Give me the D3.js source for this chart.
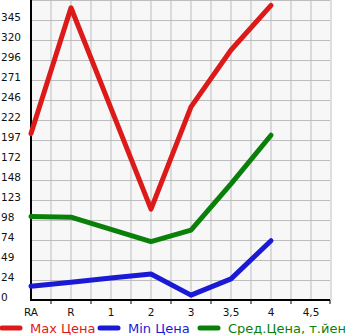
<!DOCTYPE html>
<html><head><meta charset="utf-8">
<script src="https://cdn.jsdelivr.net/npm/d3@7"></script>
<style>body{margin:0;background:#fff}svg{display:block}</style>
</head><body>
<script>
const categories = ["RA","R","1","2","3","3,5","4","4,5"];
const maxPrice = [205, 360, 236, 112, 238, 308, 363, null];
const minPrice = [17, 22, 27, 32, 6, 26, 73, null];
const avgPrice = [103, 102, 87, 72, 86, 143, 203, null];
const yTickLabels = ["0","24","49","74","98","123","148","172","197","222","246","271","296","320","345"];
const yMax = 369.6;
const seriesNames = ["Max Цена","Min Цена","Сред.Цена, т.йен"];
const seriesColors = ["#dd1a1a","#1a1ad6","#0a800a"];

const W=345,H=335;
const svg=d3.select("body").append("svg").attr("width",W).attr("height",H);
const L=31,R=330,T=0,B=300;
const x=d3.scalePoint().domain(categories).range([L,L+280]);
const y=d3.scaleLinear().domain([0,yMax]).range([B,T]);
const step=yMax/15;

svg.append("rect").attr("x",L).attr("y",T).attr("width",R-L).attr("height",B-T).attr("fill","#f7f7f7");
const g=svg.append("g");
// vertical grid every half category
for(let i=1;i<=15;i++){
  const xx=L+i*(x.step()/2);
  g.append("line").attr("x1",xx).attr("x2",xx).attr("y1",T).attr("y2",B).attr("stroke","#bdbdbd").attr("stroke-width",1);
}
// horizontal grid
for(let i=1;i<=15;i++){
  const yy=Math.round(y(i*step))+0.5;
  g.append("line").attr("x1",L).attr("x2",R).attr("y1",yy).attr("y2",yy).attr("stroke","#bdbdbd").attr("stroke-width",1);
}
// y labels
yTickLabels.forEach((t,i)=>{
  svg.append("text").attr("x",1).attr("y",y(i*step)+1).text(t)
    .attr("font-family","DejaVu Sans, sans-serif").attr("font-size",10.5).attr("fill","#111");
});
// x axis ticks between categories
for(let i=0;i<7;i++){
  const xx=L+x.step()*(i+0.5);
  svg.append("line").attr("x1",xx).attr("x2",xx).attr("y1",B).attr("y2",B+4).attr("stroke","#000");
}
svg.append("line").attr("x1",R).attr("x2",R).attr("y1",B).attr("y2",B+4).attr("stroke","#000");
categories.forEach(c=>{
  svg.append("text").attr("x",x(c)).attr("y",B+16).attr("text-anchor","middle").text(c)
    .attr("font-family","DejaVu Sans, sans-serif").attr("font-size",10.5).attr("fill","#111");
});
// axes lines
svg.append("line").attr("x1",L).attr("x2",L).attr("y1",T).attr("y2",B+1).attr("stroke","#000").attr("stroke-width",2);
svg.append("line").attr("x1",L-1).attr("x2",R).attr("y1",B).attr("y2",B).attr("stroke","#000").attr("stroke-width",2);

const line=d3.line().defined(d=>d.v!=null).x(d=>x(d.c)).y(d=>y(d.v));
[maxPrice,minPrice,avgPrice].forEach((arr,k)=>{
  svg.append("path").datum(categories.map((c,i)=>({c,v:arr[i]})))
    .attr("d",line).attr("fill","none").attr("stroke",seriesColors[k])
    .attr("stroke-width",5).attr("stroke-linecap","round").attr("stroke-linejoin","round");
});
// legend
const lx=[0,98,198];
seriesNames.forEach((n,k)=>{
  svg.append("line").attr("x1",lx[k]+2).attr("x2",lx[k]+20).attr("y1",328).attr("y2",328)
    .attr("stroke",seriesColors[k]).attr("stroke-width",5).attr("stroke-linecap","round");
  svg.append("text").attr("x",lx[k]+30).attr("y",333).text(n).attr("fill",seriesColors[k])
    .attr("font-family","DejaVu Sans, sans-serif").attr("font-size",13);
});
</script>
</body></html>
